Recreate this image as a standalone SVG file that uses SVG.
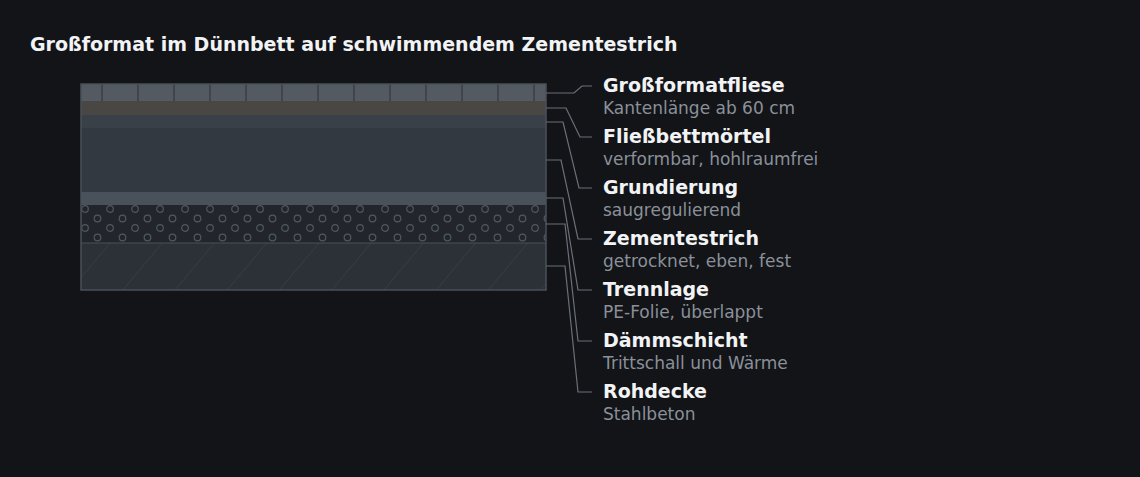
<svg xmlns="http://www.w3.org/2000/svg" width="1140" height="477" viewBox="0 0 1140 477">
<defs>
<style>
text{font-family:"DejaVu Sans","Noto Sans",sans-serif}
.h{font-size:19px;font-weight:bold;fill:#f2f3f5}
.s{font-size:17px;fill:#8b9099}
.ld{fill:none;stroke:#6b7079;stroke-width:1.2}
</style>
<pattern id="circ" width="25" height="19" patternUnits="userSpaceOnUse" x="81" y="205">
<circle cx="4" cy="4" r="3.3" fill="none" stroke="#4e5660" stroke-width="1.2"/>
<circle cx="16.5" cy="13.5" r="3.3" fill="none" stroke="#4e5660" stroke-width="1.2"/>
</pattern>
<pattern id="hatch" width="40" height="40" patternUnits="userSpaceOnUse" patternTransform="rotate(40)">
<line x1="0" y1="0" x2="0" y2="40" stroke="#3d444d" stroke-width="1"/>
</pattern>
</defs>
<rect width="1140" height="477" fill="#121418"/>
<text x="30" y="51" style="font-size:19px;font-weight:bold;fill:#f2f3f5">Großformat im Dünnbett auf schwimmendem Zementestrich</text>
<g id="section">
<rect x="81" y="84" width="465" height="17" fill="#535a62"/>
<g stroke="#3a3f46" stroke-width="1.5">
<line x1="102" y1="84" x2="102" y2="101"/><line x1="138" y1="84" x2="138" y2="101"/><line x1="174" y1="84" x2="174" y2="101"/><line x1="210" y1="84" x2="210" y2="101"/><line x1="246" y1="84" x2="246" y2="101"/><line x1="282" y1="84" x2="282" y2="101"/><line x1="318" y1="84" x2="318" y2="101"/><line x1="354" y1="84" x2="354" y2="101"/><line x1="390" y1="84" x2="390" y2="101"/><line x1="426" y1="84" x2="426" y2="101"/><line x1="462" y1="84" x2="462" y2="101"/><line x1="498" y1="84" x2="498" y2="101"/><line x1="534" y1="84" x2="534" y2="101"/>
</g>
<rect x="81" y="101" width="465" height="14" fill="#4a4644"/>
<rect x="81" y="115" width="465" height="13" fill="#3a4048"/>
<rect x="81" y="128" width="465" height="64" fill="#333940"/>
<rect x="81" y="192" width="465" height="13" fill="#49515a"/>
<rect x="81" y="205" width="465" height="38" fill="#22262c"/>
<rect x="81" y="205" width="465" height="38" fill="url(#circ)"/>
<rect x="81" y="243" width="465" height="47" fill="#2c3137"/>
<rect x="81" y="243" width="465" height="47" fill="url(#hatch)"/>
<line x1="81" y1="243" x2="546" y2="243" stroke="#4a5058" stroke-width="1.2"/>
<rect x="81" y="84" width="465" height="206" fill="none" stroke="#4a5058" stroke-width="1.5"/>
</g>
<g id="connectors">
<path class="ld" d="M546 93 H574 L582 86 H592"/>
<path class="ld" d="M546 108 H566 L580 137 H592"/>
<path class="ld" d="M546 122 H563 L579 188 H592"/>
<path class="ld" d="M546 160 H561 L578 239 H592"/>
<path class="ld" d="M546 198 H563 L578 290 H592"/>
<path class="ld" d="M546 224 H565 L578 341 H592"/>
<path class="ld" d="M546 266 H565 L578 392 H592"/>
</g>
<g id="l1"><text class="h" x="603" y="92">Großformatfliese</text><text class="s" x="603" y="114">Kantenlänge ab 60 cm</text></g>
<g id="l2"><text class="h" x="603" y="143">Fließbettmörtel</text><text class="s" x="603" y="165">verformbar, hohlraumfrei</text></g>
<g id="l3"><text class="h" x="603" y="194">Grundierung</text><text class="s" x="603" y="216">saugregulierend</text></g>
<g id="l4"><text class="h" x="603" y="245">Zementestrich</text><text class="s" x="603" y="267">getrocknet, eben, fest</text></g>
<g id="l5"><text class="h" x="603" y="296">Trennlage</text><text class="s" x="603" y="318">PE-Folie, überlappt</text></g>
<g id="l6"><text class="h" x="603" y="347">Dämmschicht</text><text class="s" x="603" y="369">Trittschall und Wärme</text></g>
<g id="l7"><text class="h" x="603" y="398">Rohdecke</text><text class="s" x="603" y="420">Stahlbeton</text></g>
</svg>
